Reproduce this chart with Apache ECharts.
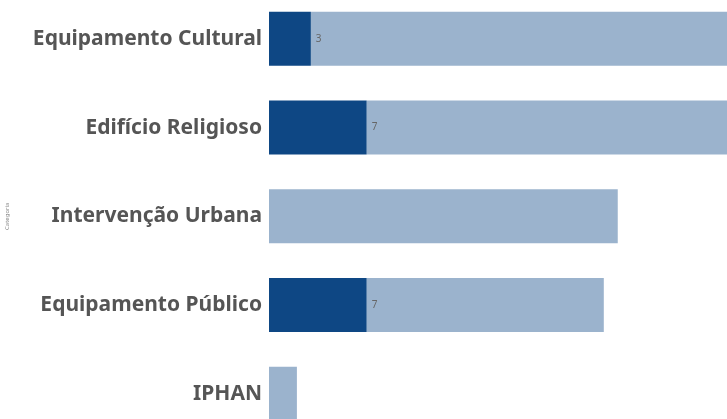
<!DOCTYPE html>
<html>
<head>
<meta charset="utf-8">
<script src="https://cdn.jsdelivr.net/npm/echarts@6/dist/echarts.min.js"></script>
<style>
  html, body { margin: 0; padding: 0; background: #fff; }
  #chart { width: 727px; height: 419px; }
</style>
</head>
<body>
<div id="chart"></div>
<script>
// Categories (top to bottom) and the two measures per category
const categories = ['Equipamento Cultural', 'Edifício Religioso', 'Intervenção Urbana', 'Equipamento Público', 'IPHAN'];
const highlighted = [3, 7, null, 7, null];   // dark segment, labelled
const totals = [35, 36, 25, 24, 2];          // full bar length
const remainder = totals.map((t, i) => t - (highlighted[i] || 0));

const chart = echarts.init(document.getElementById('chart'));
chart.setOption({
  animation: false,
  grid: {
    left: 269, right: -100, top: -5.5, bottom: -19,
    containLabel: false,
    outerBoundsMode: 'none'
  },
  xAxis: {
    type: 'value', min: 0, max: 40,
    show: false
  },
  yAxis: {
    type: 'category',
    data: categories,
    inverse: true,
    name: 'Categoria',
    nameLocation: 'middle',
    nameRotate: 90,
    nameGap: 259,
    nameTextStyle: { fontSize: 6, color: '#888', fontFamily: 'Noto Sans' },
    axisLine: { show: false },
    axisTick: { show: false },
    axisLabel: {
      margin: 7,
      fontSize: 21,
      fontWeight: 'bold',
      color: '#555555',
      fontFamily: 'Noto Sans'
    }
  },
  series: [
    {
      type: 'bar',
      stack: 'total',
      data: highlighted,
      barWidth: 54,
      z: 3,
      itemStyle: { color: '#0E4784' },
      label: {
        show: true,
        position: 'right',
        distance: 5,
        fontSize: 10,
        color: '#666',
        fontFamily: 'Noto Sans',
        formatter: p => (p.value ? p.value : '')
      }
    },
    {
      type: 'bar',
      stack: 'total',
      data: remainder,
      barWidth: 54,
      itemStyle: { color: '#9BB3CD' }
    }
  ]
});
</script>
</body>
</html>
